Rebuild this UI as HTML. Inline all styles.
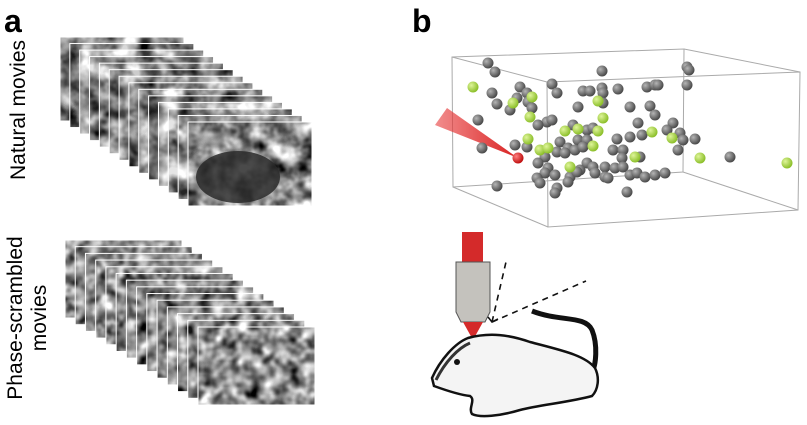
<!DOCTYPE html>
<html><head><meta charset="utf-8"><style>
body{margin:0;background:#fff;width:807px;height:425px;overflow:hidden;font-family:"Liberation Sans",sans-serif}
svg{position:absolute;left:0;top:0}
</style></head><body>
<svg width="807" height="425" viewBox="0 0 807 425">
<defs>
<filter id="nat" x="0" y="0" width="100%" height="100%" color-interpolation-filters="sRGB"><feTurbulence type="fractalNoise" baseFrequency="0.05" numOctaves="3" seed="3"/><feColorMatrix type="matrix" values="1.0 1.0 1.0 0 -0.95  1.0 1.0 1.0 0 -0.95  1.0 1.0 1.0 0 -0.95  0 0 0 0 1"/></filter>
<filter id="noise" x="0" y="0" width="100%" height="100%" color-interpolation-filters="sRGB"><feTurbulence type="fractalNoise" baseFrequency="0.08" numOctaves="2" seed="7"/><feColorMatrix type="matrix" values="0.9 0.9 0.9 0 -0.8  0.9 0.9 0.9 0 -0.8  0.9 0.9 0.9 0 -0.8  0 0 0 0 1"/></filter>
<radialGradient id="gs" cx="35%" cy="35%" r="65%"><stop offset="0" stop-color="#b5b5b5"/><stop offset="1" stop-color="#4a4a4a"/></radialGradient>
<radialGradient id="gg" cx="35%" cy="35%" r="65%"><stop offset="0" stop-color="#dff59a"/><stop offset="1" stop-color="#8cbf2a"/></radialGradient>
<radialGradient id="gr" cx="35%" cy="35%" r="65%"><stop offset="0" stop-color="#ff8080"/><stop offset="1" stop-color="#c01010"/></radialGradient>
<linearGradient id="cone" x1="1" y1="0" x2="0" y2="0"><stop offset="0" stop-color="#d82020"/><stop offset="1" stop-color="#e84040" stop-opacity="0.6"/></linearGradient>
</defs>
<text x="4" y="32" font-size="32" font-weight="bold">a</text>
<text x="412" y="32" font-size="32" font-weight="bold">b</text>
<text transform="translate(25,110) rotate(-90)" text-anchor="middle" font-size="21">Natural movies</text>
<text transform="translate(22,318) rotate(-90)" text-anchor="middle" font-size="21"><tspan x="0" dy="0">Phase-scrambled</tspan><tspan x="0" dy="24">movies</tspan></text>
<g id="natstack"></g>
<g id="scrstack"></g>
<g stroke="#aaa" stroke-width="1" fill="none">
<polygon points="452,57 684,49 683,172 453,187"/>
<polygon points="547,82 800,72 798,210 548,227"/>
<line x1="452" y1="57" x2="547" y2="82"/><line x1="684" y1="49" x2="800" y2="72"/>
<line x1="683" y1="172" x2="798" y2="210"/><line x1="453" y1="187" x2="548" y2="227"/>
</g>
<polygon points="435,125 447,108 518,158" fill="url(#cone)"/>
<g id="cells"></g>
<g>
<rect x="462" y="232" width="21" height="31" fill="#d42a2a"/>
<path d="M456,262 H490 V312 L485,322 H461 L456,312 Z" fill="#c4c2bd" stroke="#555" stroke-width="1"/>
<polygon points="463,322 483,322 473,340" fill="#d42a2a"/>
<g stroke="#111" stroke-width="1.6" stroke-dasharray="6,5" fill="none"><line x1="492" y1="322" x2="506" y2="262"/><line x1="492" y1="322" x2="586" y2="281"/></g>
<polyline points="488,317 492,322 498,319" fill="none" stroke="#111" stroke-width="1.6"/>
</g>
<g>
<path d="M532,311 C560,322 585,315 592,330 C598,345 596,365 592,372" fill="none" stroke="#111" stroke-width="5"/>
<path d="M432,378 C440,360 455,343 468,338 C490,332 510,335 530,342 C560,350 585,355 595,368 C600,378 598,390 592,396 C570,402 540,405 520,410 C500,416 480,418 472,414 C468,408 476,400 470,396 C460,395 445,390 434,386 Z" fill="#f4f4f4" stroke="#111" stroke-width="2.5"/>
<path d="M436,380 C445,362 458,348 470,343" fill="none" stroke="#333" stroke-width="3"/>
<ellipse cx="457" cy="362" rx="3" ry="3" fill="#111"/>
</g>
</svg>
<script>
const NS='http://www.w3.org/2000/svg';
const greyX=[488,495,602,687,689,492,497,510,520,527,517,528,532,552,557,583,590,602,603,618,647,655,658,687,578,603,630,650,655,478,547,552,538,573,587,593,638,673,667,680,683,695,630,642,617,578,587,560,515,527,482,568,575,583,557,565,613,623,545,622,640,678,730,538,587,593,605,615,623,548,580,545,555,595,605,570,577,630,637,645,655,665,537,540,568,497,557,555,627,608];
const greyY=[63,72,71,67,70,93,104,110,87,93,98,102,108,84,93,91,91,88,93,89,87,85,85,85,107,103,107,106,115,120,122,120,125,125,130,128,123,123,130,133,140,139,137,135,139,140,140,142,145,147,148,148,150,147,152,153,150,150,157,158,157,150,157,163,163,167,167,168,167,168,170,173,175,173,177,177,172,175,173,177,175,173,178,183,182,186,188,193,192,178];
const greenX=[473,532,513,530,598,603,565,578,598,652,672,528,540,548,593,635,700,787,570];
const greenY=[87,97,103,117,101,118,131,129,131,132,138,139,150,148,146,157,158,163,167];
function ball(x,y,f){const c=document.createElementNS(NS,'circle');c.setAttribute('cx',x);c.setAttribute('cy',y);c.setAttribute('r',5.5);c.setAttribute('fill',f);


document.getElementById('cells').appendChild(c);}
greyX.forEach((x,i)=>ball(x,greyY[i],'url(#gs)'));
greenX.forEach((x,i)=>ball(x,greenY[i],'url(#gg)'));
ball(518,158,'url(#gr)');
const shades=[0.1,-0.15,0.2,-0.1,0.05,-0.2,0.15,-0.05,0.1,-0.25,0.2,-0.1,0.15,0];
function stack(id,x0,y0,x1,y1,w,h,n,filt,front){const g=document.getElementById(id);
for(let i=0;i<n;i++){const t=i/(n-1);const x=x0+(x1-x0)*t,y=y0+(y1-y0)*t;
const r=document.createElementNS(NS,'rect');r.setAttribute('x',x);r.setAttribute('y',y);r.setAttribute('width',w);r.setAttribute('height',h);
r.setAttribute('fill','#888');r.setAttribute('filter',filt);


g.appendChild(r);
const s=front?shades[i]:shades[i]/2;
const b=document.createElementNS(NS,'rect');b.setAttribute('x',x);b.setAttribute('y',y);b.setAttribute('width',w);b.setAttribute('height',h);b.setAttribute('fill',s>0?'#fff':'#000');b.setAttribute('fill-opacity',Math.abs(s));b.setAttribute('stroke','#fff');b.setAttribute('stroke-width','1');


g.appendChild(b);}
if(front){const e=document.createElementNS(NS,'ellipse');e.setAttribute('cx',x1+50);e.setAttribute('cy',y1+55);e.setAttribute('rx',42);e.setAttribute('ry',26);e.setAttribute('fill','#2a2a2a');e.setAttribute('opacity','0.85');


g.appendChild(e);}}
stack('natstack',60,37,188,122,124,84,14,'url(#nat)',true);
stack('scrstack',65,240,198,327,117,78,14,'url(#noise)',false);
</script>
</body></html>
